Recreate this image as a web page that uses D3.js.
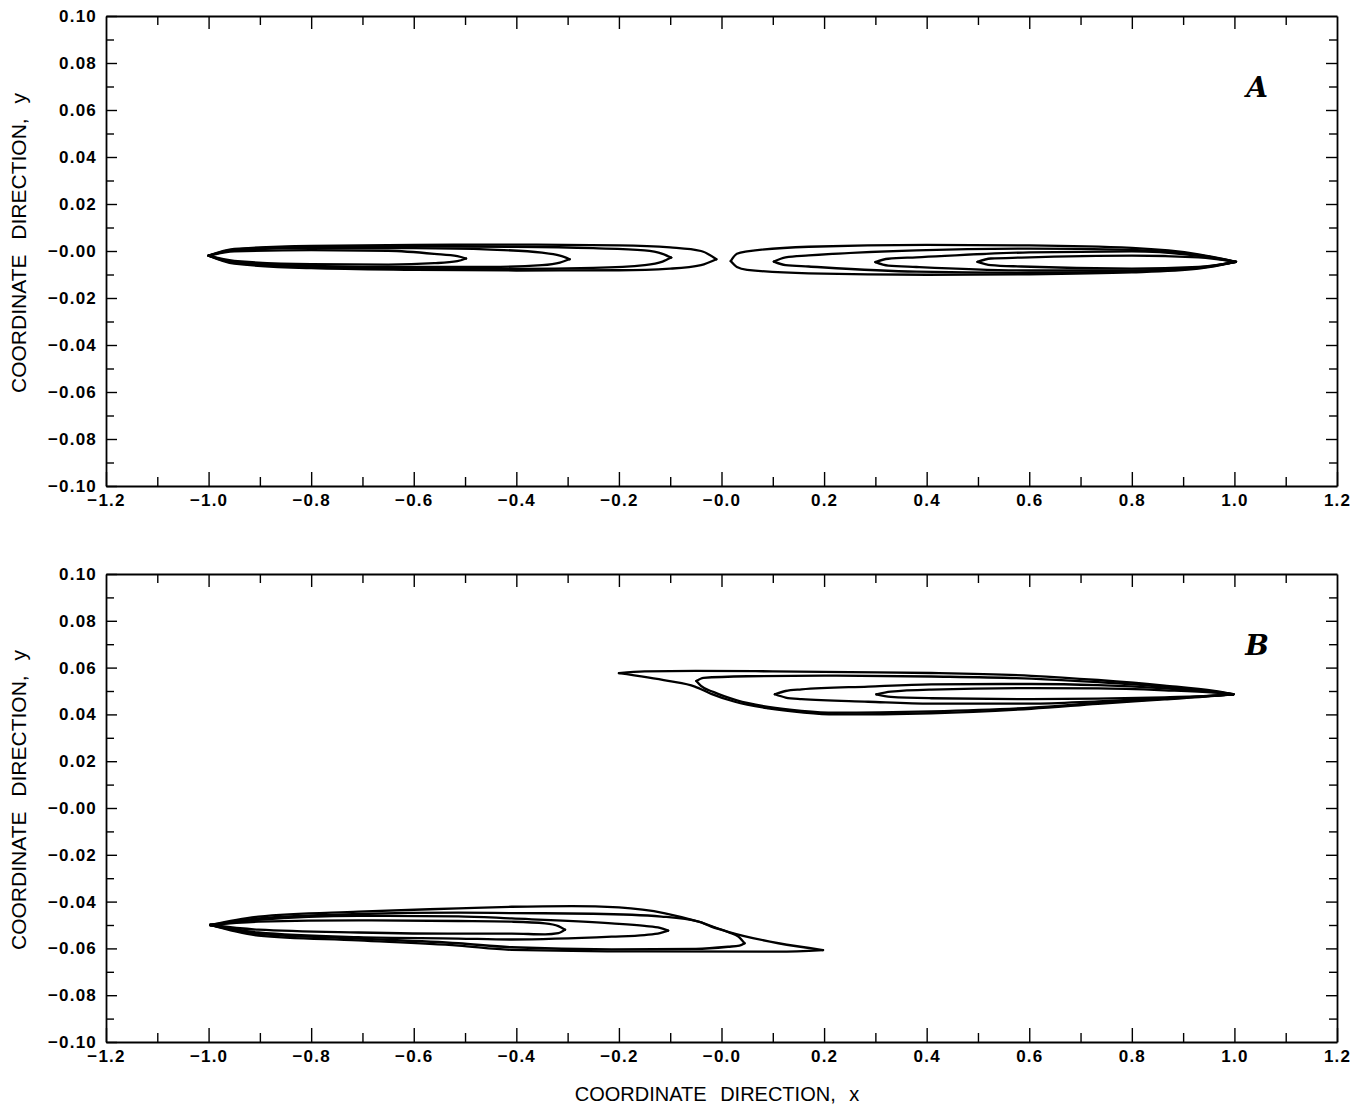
<!DOCTYPE html>
<html>
<head>
<meta charset="utf-8">
<script src="https://cdn.jsdelivr.net/npm/d3@7"></script>
<style>
  body { margin: 0; background: #fff; }
  svg { display: block; }
</style>
</head>
<body>
<div id="chart"></div>
<script>
// Tick values and labels (shared by both panels)
var xTickValues = [-1.2, -1.0, -0.8, -0.6, -0.4, -0.2, 0.0, 0.2, 0.4, 0.6, 0.8, 1.0, 1.2];
var xTickLabels = ["\u22121.2", "\u22121.0", "\u22120.8", "\u22120.6", "\u22120.4", "\u22120.2", "\u22120.0", "0.2", "0.4", "0.6", "0.8", "1.0", "1.2"];
var xMinorTicks = [-1.1, -0.9, -0.7, -0.5, -0.3, -0.1, 0.1, 0.3, 0.5, 0.7, 0.9, 1.1];
var yTickValues = [0.10, 0.08, 0.06, 0.04, 0.02, 0.00, -0.02, -0.04, -0.06, -0.08, -0.10];
var yTickLabels = ["0.10", "0.08", "0.06", "0.04", "0.02", "\u22120.00", "\u22120.02", "\u22120.04", "\u22120.06", "\u22120.08", "\u22120.10"];
var yMinorTicks = [0.09, 0.07, 0.05, 0.03, 0.01, -0.01, -0.03, -0.05, -0.07, -0.09];

// Panel A contours: each one is an upper and a lower edge, left to right
var contoursA = [
  {top: [[-1.0,-0.002],[-0.95,-0.0002],[-0.8,0.0004],[-0.65,0.0001],[-0.56,-0.0012],[-0.515,-0.0022],[-0.498,-0.0032]],
   bottom: [[-1.0,-0.002],[-0.95,-0.0042],[-0.8,-0.0056],[-0.65,-0.0058],[-0.56,-0.0052],[-0.515,-0.0043],[-0.498,-0.0032]]},
  {top: [[-1.0,-0.002],[-0.95,0.0003],[-0.8,0.0013],[-0.6,0.0012],[-0.45,0.0006],[-0.35,-0.0007],[-0.315,-0.002],[-0.296,-0.0035]],
   bottom: [[-1.0,-0.002],[-0.95,-0.0047],[-0.8,-0.0063],[-0.6,-0.0068],[-0.45,-0.0068],[-0.35,-0.006],[-0.315,-0.0049],[-0.296,-0.0035]]},
  {top: [[-1.0,-0.002],[-0.95,0.0006],[-0.8,0.0018],[-0.6,0.002],[-0.4,0.0018],[-0.25,0.0012],[-0.15,0.0003],[-0.115,-0.0012],[-0.098,-0.0028]],
   bottom: [[-1.0,-0.002],[-0.95,-0.005],[-0.8,-0.0068],[-0.6,-0.0074],[-0.4,-0.0076],[-0.25,-0.0072],[-0.15,-0.006],[-0.115,-0.0045],[-0.098,-0.0028]]},
  {top: [[-1.0,-0.002],[-0.95,0.0009],[-0.8,0.0022],[-0.6,0.0026],[-0.4,0.0027],[-0.2,0.0024],[-0.1,0.0015],[-0.04,0.0],[-0.01,-0.0035]],
   bottom: [[-1.0,-0.002],[-0.95,-0.0054],[-0.8,-0.0073],[-0.6,-0.008],[-0.4,-0.0083],[-0.2,-0.0082],[-0.1,-0.0075],[-0.04,-0.006],[-0.01,-0.0035]]},
  {top: [[0.018,-0.0043],[0.03,-0.0012],[0.05,-0.0002],[0.17,0.0018],[0.4,0.0026],[0.6,0.0024],[0.8,0.0013],[0.93,-0.0014],[1.003,-0.0046]],
   bottom: [[0.018,-0.0043],[0.03,-0.0068],[0.05,-0.008],[0.17,-0.0095],[0.4,-0.0101],[0.6,-0.0099],[0.8,-0.0091],[0.93,-0.0075],[1.003,-0.0046]]},
  {top: [[0.102,-0.0045],[0.125,-0.0027],[0.17,-0.0019],[0.38,0.0003],[0.6,0.001],[0.8,0.0005],[0.93,-0.0018],[1.003,-0.0046]],
   bottom: [[0.102,-0.0045],[0.125,-0.006],[0.17,-0.0066],[0.38,-0.0088],[0.6,-0.0093],[0.8,-0.0087],[0.93,-0.0072],[1.003,-0.0046]]},
  {top: [[0.30,-0.0047],[0.325,-0.0033],[0.38,-0.0027],[0.6,-0.0006],[0.8,-0.0002],[0.93,-0.0021],[1.003,-0.0046]],
   bottom: [[0.30,-0.0047],[0.325,-0.0062],[0.38,-0.0068],[0.6,-0.0083],[0.8,-0.0083],[0.93,-0.007],[1.003,-0.0046]]},
  {top: [[0.499,-0.0046],[0.525,-0.0032],[0.585,-0.0028],[0.8,-0.002],[0.93,-0.0027],[1.003,-0.0046]],
   bottom: [[0.499,-0.0046],[0.525,-0.006],[0.585,-0.0066],[0.8,-0.0075],[0.93,-0.0068],[1.003,-0.0046]]}
];

// Panel B contours
var contoursB = [
  {top: [[-0.2,0.0576],[-0.15,0.0584],[-0.05,0.0586],[0.1,0.0584],[0.25,0.0581],[0.409,0.0577],[0.604,0.0565],[0.734,0.0547],[0.864,0.0523],[0.961,0.05],[0.998,0.0486]],
   bottom: [[-0.2,0.0576],[-0.104,0.0543],[-0.052,0.0519],[-0.02,0.0488],[0.026,0.0454],[0.091,0.0426],[0.156,0.0409],[0.221,0.04],[0.409,0.0405],[0.604,0.0424],[0.734,0.0445],[0.864,0.0464],[0.961,0.0479],[0.998,0.0486]]},
  {top: [[-0.049,0.0543],[-0.035,0.0556],[0.05,0.0563],[0.2,0.0566],[0.409,0.0562],[0.604,0.0553],[0.734,0.0538],[0.864,0.0518],[0.961,0.0497],[0.998,0.0486]],
   bottom: [[-0.049,0.0543],[-0.04,0.0522],[-0.015,0.0495],[0.03,0.046],[0.091,0.0432],[0.156,0.0415],[0.221,0.0407],[0.409,0.0413],[0.604,0.0429],[0.734,0.0449],[0.864,0.0467],[0.961,0.048],[0.998,0.0486]]},
  {top: [[0.104,0.0486],[0.125,0.05],[0.156,0.0507],[0.286,0.0519],[0.409,0.0528],[0.604,0.053],[0.734,0.0525],[0.864,0.0511],[0.961,0.0495],[0.998,0.0486]],
   bottom: [[0.104,0.0486],[0.125,0.0472],[0.156,0.0465],[0.286,0.0454],[0.409,0.0446],[0.604,0.0446],[0.734,0.0456],[0.864,0.0469],[0.961,0.048],[0.998,0.0486]]},
  {top: [[0.302,0.0486],[0.33,0.0497],[0.409,0.0506],[0.604,0.0512],[0.734,0.0511],[0.864,0.0503],[0.961,0.0493],[0.998,0.0486]],
   bottom: [[0.302,0.0486],[0.33,0.0475],[0.409,0.0469],[0.604,0.0465],[0.734,0.0467],[0.864,0.0473],[0.961,0.048],[0.998,0.0486]]},
  {top: [[-0.997,-0.05],[-0.903,-0.0486],[-0.708,-0.048],[-0.513,-0.0483],[-0.409,-0.0486],[-0.344,-0.0493],[-0.318,-0.0505],[-0.305,-0.052]],
   bottom: [[-0.997,-0.05],[-0.903,-0.052],[-0.708,-0.0532],[-0.513,-0.0537],[-0.409,-0.0537],[-0.344,-0.054],[-0.318,-0.0535],[-0.305,-0.052]]},
  {top: [[-0.997,-0.05],[-0.903,-0.0478],[-0.708,-0.0461],[-0.513,-0.0463],[-0.409,-0.0472],[-0.214,-0.0493],[-0.15,-0.0504],[-0.12,-0.0512],[-0.104,-0.0524]],
   bottom: [[-0.997,-0.05],[-0.903,-0.0532],[-0.708,-0.0552],[-0.513,-0.0558],[-0.409,-0.0562],[-0.214,-0.055],[-0.15,-0.0543],[-0.12,-0.0535],[-0.104,-0.0524]]},
  {top: [[-0.997,-0.05],[-0.903,-0.0472],[-0.708,-0.0453],[-0.513,-0.0447],[-0.409,-0.0449],[-0.25,-0.0452],[-0.117,-0.0464],[-0.045,-0.0485],[-0.02,-0.0507],[0.015,-0.0532],[0.033,-0.055],[0.045,-0.0578]],
   bottom: [[-0.997,-0.05],[-0.903,-0.0538],[-0.708,-0.0558],[-0.513,-0.0578],[-0.409,-0.0595],[-0.214,-0.0604],[-0.05,-0.0602],[0.013,-0.0593],[0.035,-0.0588],[0.045,-0.0578]]},
  {top: [[-0.997,-0.05],[-0.903,-0.0464],[-0.708,-0.0443],[-0.513,-0.0429],[-0.409,-0.0422],[-0.292,-0.0419],[-0.2,-0.0425],[-0.11,-0.045],[-0.045,-0.0486],[0.013,-0.0529],[0.111,-0.0578],[0.198,-0.0607]],
   bottom: [[-0.997,-0.05],[-0.903,-0.0545],[-0.708,-0.0566],[-0.513,-0.0588],[-0.409,-0.0606],[-0.15,-0.0613],[0.111,-0.0614],[0.198,-0.0607]]}
];

var width = 1361, height = 1105;
var left = 106, right = 1337;
var tickFont = '"Liberation Sans", Arial, Helvetica, sans-serif';

var svg = d3.select('#chart').append('svg')
    .attr('width', width)
    .attr('height', height)
    .style('background', '#fff');

var x = d3.scaleLinear().domain([-1.2, 1.2]).range([left, right]);

var panels = [
    {top: 16, bottom: 486, letter: 'A', contours: contoursA},
    {top: 574, bottom: 1042, letter: 'B', contours: contoursB}
];

/* Draws one axis pass (major or minor) and styles it */
function drawAxis(g, axis) {
    g.call(axis);
    g.selectAll('line').attr('stroke', '#000').attr('stroke-width', 1.4);
    g.selectAll('path.domain').attr('stroke', '#000').attr('stroke-width', 1.8);
    g.selectAll('text')
        .attr('fill', '#000')
        .style('font-family', tickFont)
        .style('font-size', '17px')
        .style('font-weight', 'bold')
        .style('letter-spacing', '1.2px');
    return g;
}

panels.forEach(function (p) {
    var y = d3.scaleLinear().domain([-0.1, 0.1]).range([p.bottom, p.top]);
    var g = svg.append('g');

    // bottom axis with labels
    drawAxis(g.append('g').attr('transform', 'translate(0,' + p.bottom + ')'),
        d3.axisBottom(x).tickValues(xTickValues)
            .tickFormat(function (d, i) { return xTickLabels[i]; })
            .tickSize(-14).tickSizeOuter(0).tickPadding(8));
    drawAxis(g.append('g').attr('transform', 'translate(0,' + p.bottom + ')'),
        d3.axisBottom(x).tickValues(xMinorTicks).tickFormat('').tickSize(-9).tickSizeOuter(0))
        .select('.domain').remove();

    // top axis, ticks only
    drawAxis(g.append('g').attr('transform', 'translate(0,' + p.top + ')'),
        d3.axisTop(x).tickValues(xTickValues.slice(1, -1)).tickFormat('').tickSize(-13).tickSizeOuter(0));
    drawAxis(g.append('g').attr('transform', 'translate(0,' + p.top + ')'),
        d3.axisTop(x).tickValues(xMinorTicks).tickFormat('').tickSize(-9).tickSizeOuter(0))
        .select('.domain').remove();

    // left axis with labels
    drawAxis(g.append('g').attr('transform', 'translate(' + left + ',0)'),
        d3.axisLeft(y).tickValues(yTickValues)
            .tickFormat(function (d, i) { return yTickLabels[i]; })
            .tickSize(-11).tickSizeOuter(0).tickPadding(9));
    drawAxis(g.append('g').attr('transform', 'translate(' + left + ',0)'),
        d3.axisLeft(y).tickValues(yMinorTicks).tickFormat('').tickSize(-8).tickSizeOuter(0))
        .select('.domain').remove();

    // right axis, ticks only
    drawAxis(g.append('g').attr('transform', 'translate(' + right + ',0)'),
        d3.axisRight(y).tickValues(yTickValues.slice(1, -1)).tickFormat('').tickSize(-11).tickSizeOuter(0));
    drawAxis(g.append('g').attr('transform', 'translate(' + right + ',0)'),
        d3.axisRight(y).tickValues(yMinorTicks).tickFormat('').tickSize(-8).tickSizeOuter(0))
        .select('.domain').remove();

    // y axis title
    g.append('text')
        .attr('transform', 'translate(26,' + ((p.top + p.bottom) / 2 - 8) + ') rotate(-90)')
        .attr('text-anchor', 'middle')
        .style('font-family', tickFont)
        .style('font-size', '21px')
        .style('word-spacing', '9px')
        .text('COORDINATE DIRECTION, y');

    // panel letter
    g.append('text')
        .attr('x', 1257)
        .attr('y', p.top + 81)
        .attr('text-anchor', 'middle')
        .style('font-family', '"DejaVu Serif", "Liberation Serif", serif')
        .style('font-size', '28px')
        .style('font-weight', 'bold')
        .style('font-style', 'italic')
        .text(p.letter);

    // contour lines: upper and lower edges drawn separately so tips stay sharp
    var line = d3.line()
        .x(function (d) { return x(d[0]); })
        .y(function (d) { return y(d[1]); })
        .curve(d3.curveMonotoneX);

    var cg = g.append('g');
    p.contours.forEach(function (c) {
        [c.top, c.bottom].forEach(function (edge) {
            cg.append('path')
                .attr('d', line(edge))
                .attr('fill', 'none')
                .attr('stroke', '#000')
                .attr('stroke-width', 2.3)
                .attr('stroke-linejoin', 'round')
                .attr('stroke-linecap', 'round');
        });
    });
});

// x axis title
svg.append('text')
    .attr('x', 717)
    .attr('y', 1101)
    .attr('text-anchor', 'middle')
    .style('font-family', tickFont)
    .style('font-size', '20px')
    .style('word-spacing', '8px')
    .text('COORDINATE DIRECTION, x');
</script>
</body>
</html>
